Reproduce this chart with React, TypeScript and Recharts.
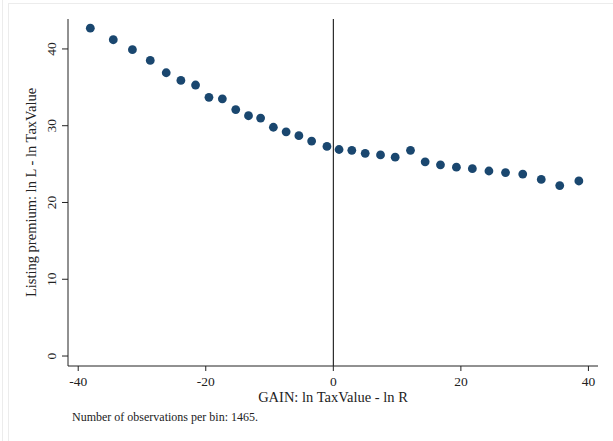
import { ScatterChart, Scatter, XAxis, YAxis, ReferenceLine } from "recharts";

// binned means
const binGain = [
  -38.1, -34.5, -31.5, -28.7, -26.2, -23.9, -21.6, -19.5, -17.4, -15.3, -13.3,
  -11.4, -9.4, -7.4, -5.4, -3.4, -1.0, 0.9, 2.9, 5.0, 7.4, 9.7, 12.1, 14.4,
  16.8, 19.3, 21.8, 24.4, 27.0, 29.7, 32.6, 35.5, 38.5,
];
const binPremium = [
  42.7, 41.2, 39.9, 38.5, 36.9, 35.9, 35.3, 33.7, 33.5, 32.1, 31.3, 31.0, 29.8,
  29.2, 28.7, 28.0, 27.3, 26.9, 26.8, 26.4, 26.2, 25.9, 26.8, 25.3, 24.9, 24.6,
  24.4, 24.1, 23.9, 23.7, 23.0, 22.2, 22.8,
];
const xTicks = [-40, -20, 0, 20, 40];
const yTicks = [0, 10, 20, 30, 40];

const points = binGain.map((g, i) => ({ gain: g, premium: binPremium[i] }));

const FONT = "'Liberation Serif', 'Times New Roman', serif";
const DOT = "#1a476f";

function YTick(props: any) {
  const { x, y, payload } = props;
  return (
    <text
      x={x - 4}
      y={y}
      transform={`rotate(-90, ${x - 4}, ${y})`}
      textAnchor="middle"
      fontFamily={FONT}
      fontSize={13.5}
      fill="#222"
    >
      {payload.value}
    </text>
  );
}

function Dot(props: any) {
  return <circle cx={props.cx} cy={props.cy} r={4.4} fill={DOT} />;
}

export default function App() {
  return (
    <div
      style={{
        position: "absolute",
        left: 0,
        top: 0,
        width: 613,
        height: 441,
        background: "#fff",
        fontFamily: FONT,
      }}
    >
      <div style={{ position: "absolute", left: 2, top: 0, width: 1, height: 441, background: "#ececec" }} />
      <div
        style={{
          position: "absolute",
          left: 8,
          top: 3,
          width: 605,
          height: 438,
          borderLeft: "1px solid #ececec",
          borderTop: "1px solid #ececec",
        }}
      />
      <ScatterChart
        width={613}
        height={441}
        margin={{ top: 19, right: 15, bottom: 0, left: 0 }}
        style={{ position: "absolute", left: 0, top: 0 }}
      >
        <XAxis
          type="number"
          dataKey="gain"
          domain={[-41.6, 41.5]}
          ticks={xTicks}
          height={75}
          tickSize={5}
          tickMargin={5}
          stroke="#222"
          tick={{ fill: "#222", fontSize: 13.5, fontFamily: FONT }}
          label={{
            value: "GAIN: ln TaxValue - ln R",
            position: "insideTop",
            offset: 26,
            fill: "#222",
            fontSize: 14.5,
            fontFamily: FONT,
          }}
        />
        <YAxis
          type="number"
          dataKey="premium"
          domain={[-1.3, 43.9]}
          ticks={yTicks}
          width={68}
          tickSize={6}
          stroke="#222"
          tick={<YTick />}
          label={{
            value: "Listing premium: ln L - ln TaxValue",
            angle: -90,
            position: "center",
            dx: -3,
            fill: "#222",
            fontSize: 14.5,
            fontFamily: FONT,
          }}
        />
        <ReferenceLine x={0} stroke="#000" strokeWidth={1} />
        <Scatter data={points} shape={<Dot />} isAnimationActive={false} />
      </ScatterChart>
      <div
        style={{
          position: "absolute",
          left: 72,
          top: 410,
          fontSize: 12,
          color: "#222",
          whiteSpace: "nowrap",
        }}
      >
        Number of observations per bin: 1465.
      </div>
    </div>
  );
}
